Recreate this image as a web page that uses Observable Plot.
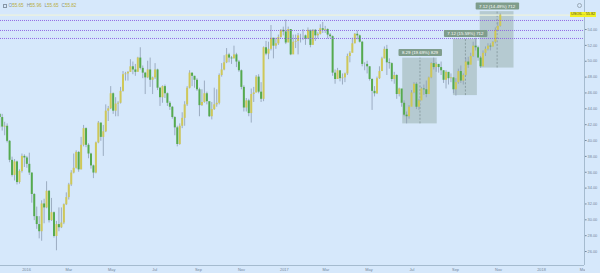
<!DOCTYPE html>
<html>
<head>
<meta charset="utf-8">
<script src="https://cdn.jsdelivr.net/npm/d3@7"></script>
<script src="https://cdn.jsdelivr.net/npm/@observablehq/plot@0.6"></script>
<style>
  html, body { margin: 0; padding: 0; background: #d6e8fb; }
  #wrap { position: relative; width: 600px; height: 273px; overflow: hidden; background: #d6e8fb; font-family: "Liberation Sans", Arial, sans-serif; }
  #legend { position: absolute; left: 3px; top: 3px; font-size: 4.6px; line-height: 5px; white-space: nowrap; color: #7d8ea0; }
  #legend .v { color: #b9ad3e; margin-right: 3px; }
  #legend .ic { display: inline-block; width: 3.6px; height: 3.6px; border: 0.6px solid #8796a6; margin-right: 2px; vertical-align: -0.5px; box-sizing: border-box; }
  #tag { position: absolute; left: 570px; top: 12px; height: 5.4px; line-height: 5.4px; padding: 0 1px; font-size: 3.8px; background: #f1ef24; color: #4a4a2a; white-space: nowrap; }
  #corner { position: absolute; left: 584.5px; top: 265.5px; width: 16px; height: 8px; background: #d6e8fb; }
  #gear { position: absolute; left: 576.5px; top: 2.5px; width: 5px; height: 5px; border: 0.7px solid #9aa8b6; border-radius: 50%; box-sizing: border-box; }
</style>
</head>
<body>
<div id="wrap">
  <div id="chart"></div>
  <div id="legend"></div>
  <div id="tag"></div>
  <div id="corner"></div>
  <div id="gear"></div>
</div>
<script>
// USOIL, half-week OHLC bars (two bars per week), Nov 2015 – Nov 2017
const symbol = "USOIL";
const barStart = "2015-11-24";
const barStepDays = 3.5;
const firstOpen = 43.3;

const close = [
  42.9,41.7,41.8,39.9,37.5,35.6,37.3,34.7,36.1,38.0,37.8,37.0,
  35.9,33.2,30.4,29.4,28.5,32.0,31.5,33.6,29.9,30.9,27.9,29.4,
  29.0,29.6,31.9,32.8,34.4,35.9,36.5,38.5,36.3,39.4,41.5,39.4,
  38.3,36.8,35.9,39.7,42.2,40.4,41.1,43.7,44.0,45.9,43.7,44.6,
  44.7,46.2,48.3,48.4,48.6,49.3,48.9,48.6,50.4,49.1,48.5,47.9,
  48.9,47.6,47.9,48.9,46.6,45.4,46.8,45.9,44.7,44.2,42.9,41.6,
  39.5,41.8,42.8,44.5,46.6,48.5,48.1,47.6,46.4,44.4,44.8,45.9,
  44.9,43.0,43.9,44.5,44.7,48.2,48.9,49.8,50.8,50.4,50.3,50.8,
  49.9,48.8,46.7,44.1,45.0,43.4,45.8,46.0,48.0,46.1,45.2,51.7,
  50.9,51.5,52.9,51.9,52.2,53.0,53.9,53.7,
  52.3,54.0,50.8,52.4,52.5,53.2,53.2,53.2,52.8,53.9,52.0,53.9,
  53.2,53.4,54.1,53.9,54.0,53.3,53.1,48.5,47.7,48.8,47.8,47.9,
  48.4,50.6,51.0,52.2,53.4,53.2,52.4,49.6,49.6,49.3,47.7,46.2,
  45.9,47.8,48.7,50.3,51.5,49.8,49.7,47.7,48.2,45.8,46.5,44.7,
  43.2,43.0,44.2,46.0,47.1,44.2,45.0,46.5,46.4,45.8,47.9,49.7,
  49.2,49.6,49.2,48.8,47.6,48.6,47.8,47.9,46.4,47.3,48.7,47.5,
  48.2,49.9,49.5,50.6,51.9,51.7,50.4,49.3,51.0,51.5,51.9,51.8,
  52.4,53.9,54.4,55.82
];
const high = [
  43.2,43.3,42.3,42.1,40.0,37.9,37.6,37.4,36.3,38.3,38.2,38.0,
  38.4,35.9,33.3,31.6,30.4,32.4,32.6,34.8,33.7,32.7,31.0,29.8,
  31.5,31.5,32.0,33.4,34.6,36.2,38.3,38.7,38.6,40.4,41.9,41.6,
  39.6,38.4,36.9,39.8,42.4,42.2,41.9,44.5,44.3,46.8,46.0,45.4,
  44.9,46.7,48.7,48.6,48.7,50.2,49.9,49.6,50.5,51.7,49.4,48.6,
  50.0,50.4,48.0,49.7,49.0,46.7,46.9,47.0,46.0,44.9,44.3,43.0,
  41.8,42.1,43.5,44.9,46.8,48.8,48.5,48.1,47.8,46.6,46.4,47.5,
  46.1,44.3,44.8,46.6,46.4,48.4,49.7,50.7,51.6,51.0,50.6,51.9,
  51.0,50.1,48.9,46.9,45.3,45.2,46.5,46.7,48.2,48.3,47.3,51.8,
  52.5,52.4,54.5,52.9,52.9,53.3,54.0,54.3,
  55.2,54.3,53.9,53.3,53.3,53.5,53.4,54.0,53.3,54.2,53.9,54.0,
  54.0,53.6,54.6,54.9,54.4,54.1,53.5,53.2,48.9,49.1,48.7,48.4,
  48.5,50.9,51.2,52.9,53.5,53.8,53.3,52.5,49.8,50.0,49.3,47.8,
  46.8,48.0,49.3,50.5,51.8,52.0,50.3,49.8,48.6,48.3,46.6,46.4,
  45.0,43.6,44.4,46.3,47.3,47.3,45.2,46.7,47.0,47.5,48.0,49.8,
  50.4,49.8,49.6,49.9,48.8,48.8,48.3,48.4,47.9,47.8,49.0,49.4,
  48.4,50.4,50.5,51.0,52.4,52.9,51.9,50.6,51.3,51.8,52.2,52.2,
  52.5,54.2,54.9,55.96
];
const low = [
  41.6,41.2,40.6,39.7,37.2,35.4,34.9,34.4,34.5,35.9,36.6,36.5,
  35.6,32.1,29.9,28.8,27.6,27.3,29.5,31.4,29.6,29.8,27.7,26.1,
  28.5,28.9,29.4,31.8,32.5,34.2,35.8,36.4,36.0,36.3,39.2,39.1,
  37.7,36.4,35.2,35.8,39.6,39.9,38.0,41.0,42.4,43.9,43.3,43.0,
  43.0,44.6,46.1,47.5,47.5,48.6,48.3,48.1,48.7,48.9,47.8,45.8,
  47.8,46.7,45.8,47.7,46.3,44.3,44.7,45.3,44.3,43.8,42.7,40.6,
  39.2,39.4,41.5,41.8,44.3,46.5,46.8,46.6,46.2,43.0,44.3,44.7,
  44.5,42.9,42.6,43.8,44.2,44.5,48.0,48.8,49.7,49.8,49.6,50.3,
  49.2,48.6,46.4,43.6,43.6,43.0,42.2,44.8,46.0,45.9,44.8,44.9,
  50.7,50.2,51.3,50.3,51.5,52.0,52.9,53.2,
  52.1,52.6,50.7,51.4,51.6,50.8,52.3,52.6,52.0,52.7,51.7,52.2,
  52.5,52.8,53.3,53.5,53.5,52.8,52.9,48.1,47.1,47.7,47.4,47.0,
  47.3,48.2,49.8,51.1,52.2,52.7,52.3,49.3,48.8,48.4,47.5,43.8,
  45.5,45.8,47.7,48.7,50.3,48.2,49.0,47.4,47.1,45.2,45.5,44.2,
  43.0,42.1,42.7,44.4,45.9,43.9,43.8,45.1,45.7,45.4,46.1,47.8,
  48.9,48.6,48.5,48.2,47.2,46.5,47.0,47.3,45.9,45.6,47.1,47.2,
  47.0,48.1,49.1,49.8,50.5,51.3,50.0,49.1,49.3,50.6,51.3,51.3,
  51.8,52.2,53.8,54.3
];

// Last daily bar shown in the legend
const legendKeys = ["O", "H", "L", "C"];
const legendValues = [55.65, 55.96, 55.65, 55.82];

// Horizontal levels (dotted)
const levels = [55.14, 53.88, 52.87];

// Price-range measurements
const rangeStart = ["2017-06-18", "2017-08-29", "2017-10-06"];
const rangeEnd   = ["2017-08-06", "2017-10-02", "2017-11-23"];
const rangeLow   = [42.10, 45.67, 49.14];
const rangeHigh  = [50.39, 52.79, 56.26];
const rangeText  = ["8.29 (19.69%) 829", "7.12 (15.59%) 712", "7.12 (14.49%) 712"];

// Axes
const xTickDates = ["2016-01-01","2016-03-01","2016-05-01","2016-07-01","2016-09-01","2016-11-01",
                    "2017-01-01","2017-03-01","2017-05-01","2017-07-01","2017-09-01","2017-11-01",
                    "2018-01-01","2018-03-01"];
const xTickLabels = ["2016","Mar","May","Jul","Sep","Nov","2017","Mar","May","Jul","Sep","Nov","2018","Mar"];
const priceTicks = [26,28,30,32,34,36,38,40,42,44,46,48,50,52,54];
const xDomain = [new Date("2015-11-25T02:00:00Z"), new Date("2018-03-03T01:00:00Z")];
const yDomain = [24.24, 57.66];

// Colours
const upColor = "#cfc858";
const downColor = "#55aa4e";
const wickColor = "#8d9db2";

const day = 864e5;
const t0 = new Date(barStart + "T00:00:00Z").getTime();
const bars = close.map((c, i) => ({
  date: new Date(t0 + i * barStepDays * day),
  open: i === 0 ? firstOpen : close[i - 1],
  high: high[i],
  low: low[i],
  close: c
}));
const ranges = rangeText.map((label, i) => {
  const s = new Date(rangeStart[i]), e = new Date(rangeEnd[i]);
  return {start: s, end: e, mid: new Date((s.getTime() + e.getTime()) / 2), low: rangeLow[i], high: rangeHigh[i], label};
});
const tickLabelByTime = new Map(xTickDates.map((d, i) => [new Date(d).getTime(), xTickLabels[i]]));

const chart = Plot.plot({
  width: 600,
  height: 273,
  marginTop: 0,
  marginBottom: 8,
  marginLeft: 0,
  marginRight: 16,
  style: {background: "transparent", color: "#74879a", fontSize: "3.9px", fontFamily: "Liberation Sans, Arial, sans-serif", overflow: "visible"},
  x: {type: "utc", domain: xDomain, ticks: xTickDates.map(d => new Date(d)), tickFormat: d => tickLabelByTime.get(d.getTime()), tickSize: 0, tickPadding: 2.6, label: null},
  y: {domain: yDomain, axis: "right", ticks: priceTicks, tickFormat: d => d.toFixed(2), tickSize: 1.6, tickPadding: 1.4, label: null},
  marks: [
    // measurement boxes
    Plot.rect(ranges, {x1: "start", x2: "end", y1: "low", y2: "high", fill: "#728f7c", fillOpacity: 0.33}),
    Plot.ruleX(ranges, {x: "mid", y1: "low", y2: "high", stroke: "#7a8c90", strokeWidth: 0.7, strokeDasharray: "2,1.6"}),
    // last price line
    Plot.ruleY([legendValues[3]], {stroke: "#eef3dc", strokeWidth: 1.3}),
    // wicks and bodies
    Plot.ruleX(bars, {x: "date", y1: "low", y2: "high", stroke: wickColor, strokeWidth: 0.8}),
    Plot.ruleX(bars.filter(d => d.close >= d.open), {x: "date", y1: "open", y2: "close", stroke: upColor, strokeWidth: 2}),
    Plot.ruleX(bars.filter(d => d.close < d.open), {x: "date", y1: "open", y2: "close", stroke: downColor, strokeWidth: 2}),
    // horizontal levels
    Plot.ruleY(levels, {stroke: "#8b5fe0", strokeWidth: 0.9, strokeDasharray: "1,1"}),
    // measurement labels
    Plot.text(ranges, {x: "mid", y: "high", text: "label", dy: -5.5, fill: "#ffffff", fontSize: 4.4}),
    // panel borders
    Plot.ruleX([xDomain[1]], {stroke: "#98aec4", strokeWidth: 0.8}),
    Plot.ruleY([yDomain[0]], {stroke: "#98aec4", strokeWidth: 0.8})
  ]
});
document.getElementById("chart").appendChild(chart);

// rounded backgrounds behind the measurement labels
d3.select(chart).selectAll("text")
  .filter(function () { return rangeText.includes(this.textContent); })
  .each(function () {
    const b = this.getBBox();
    const r = document.createElementNS("http://www.w3.org/2000/svg", "rect");
    const tr = this.getAttribute("transform");
    if (tr) r.setAttribute("transform", tr);
    r.setAttribute("x", b.x - 3.4);
    r.setAttribute("y", b.y - 1);
    r.setAttribute("width", b.width + 6.8);
    r.setAttribute("height", b.height + 2);
    r.setAttribute("rx", 1);
    r.setAttribute("fill", "#7f9d8c");
    this.parentNode.insertBefore(r, this);
  });

// legend and price tag
const legend = d3.select("#legend");
legend.append("span").attr("class", "ic");
legendKeys.forEach((k, i) => {
  legend.append("span").attr("class", "k").text(k);
  legend.append("span").attr("class", "v").text(legendValues[i].toFixed(2));
});
d3.select("#tag").text(symbol + " - " + legendValues[3].toFixed(2));
</script>
</body>
</html>
